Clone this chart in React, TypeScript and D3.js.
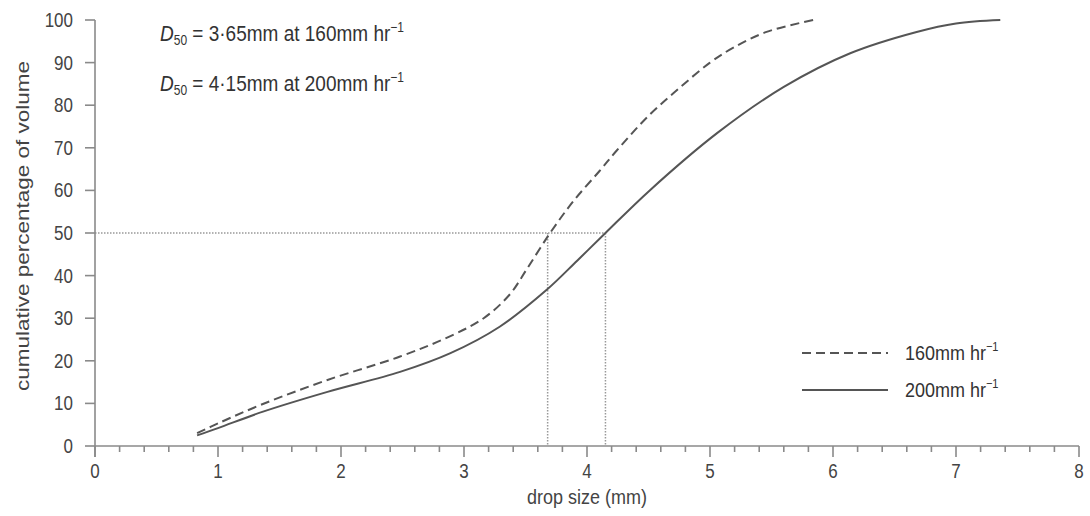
import React from "react";
import * as d3 from "d3";

const xTicks = [0, 1, 2, 3, 4, 5, 6, 7, 8];
const yTicks = [0, 10, 20, 30, 40, 50, 60, 70, 80, 90, 100];

const dropSize160 = [0.83, 1.0, 1.36, 1.89, 2.48, 2.89, 3.16, 3.37, 3.51, 3.7, 3.89, 4.1, 4.24, 4.5, 4.75, 5.0, 5.19, 5.46, 5.84];
const cumVol160 = [3, 5.3, 9.8, 15.5, 21, 25.8, 30, 35.5, 41.5, 50, 57.5, 64.5, 69.3, 77.5, 84, 90, 93.5, 97.2, 100];

const dropSize200 = [0.83, 1.0, 1.36, 1.89, 2.48, 2.89, 3.29, 3.67, 3.92, 4.15, 4.51, 5.06, 5.6, 6.14, 6.68, 7.0, 7.36];
const cumVol200 = [2.5, 4.2, 8, 12.7, 17.4, 21.8, 28, 36.6, 43.5, 50, 60, 73.5, 84.3, 92.2, 97.2, 99.2, 100];

const d50_160 = 3.68;
const d50_200 = 4.15;

const FONT = "'Liberation Sans', Arial, Helvetica, sans-serif";
const TXT = "#444";
const SY = 1.15; // vertical stretch of the lettering

function T({ x, y, anchor = "start", size = 17, fill = TXT, children }: any) {
  return (
    <g transform={`translate(${x},${y}) scale(1,${SY})`}>
      <text x={0} y={0} dy="0.36em" textAnchor={anchor} fontSize={size} fill={fill}>
        {children}
      </text>
    </g>
  );
}

export default function App() {
  const x = d3.scaleLinear().domain([0, 8]).range([95, 1079]);
  const y = d3.scaleLinear().domain([0, 100]).range([446, 20]);

  const line = d3
    .line<[number, number]>()
    .x((d) => x(d[0]))
    .y((d) => y(d[1]))
    .curve(d3.curveCatmullRom.alpha(0.5));

  const s160 = dropSize160.map((v, i) => [v, cumVol160[i]] as [number, number]);
  const s200 = dropSize200.map((v, i) => [v, cumVol200[i]] as [number, number]);

  const minor = d3.range(0, 8.0001, 0.2).filter((v) => Math.abs(v - Math.round(v)) > 1e-6);

  return (
    <svg width={1090} height={516} style={{ position: "absolute", left: 0, top: 0, background: "#fff" }} fontFamily={FONT}>
      {/* dotted reference lines */}
      <g stroke="#999" strokeWidth={1.5} strokeDasharray="1.5 1.5" fill="none">
        <line x1={x(0)} x2={x(d50_200)} y1={y(50)} y2={y(50)} />
        <line x1={x(d50_160)} x2={x(d50_160)} y1={y(50)} y2={y(0)} />
        <line x1={x(d50_200)} x2={x(d50_200)} y1={y(50)} y2={y(0)} />
      </g>

      {/* axes */}
      <g stroke="#8a8a8a" strokeWidth={1.6}>
        <line x1={x(0)} x2={x(0)} y1={y(0) + 11} y2={y(100)} />
        <line x1={x(0)} x2={x(8)} y1={y(0)} y2={y(0)} />
        {yTicks.map((t) => (
          <line key={"yt" + t} x1={x(0) - 10} x2={x(0)} y1={y(t)} y2={y(t)} />
        ))}
        {xTicks.map((t) => (
          <line key={"xt" + t} x1={x(t)} x2={x(t)} y1={y(0)} y2={y(0) + 11} />
        ))}
        {minor.map((t, i) => (
          <line key={"mt" + i} x1={x(t)} x2={x(t)} y1={y(0)} y2={y(0) + 6} />
        ))}
      </g>

      {yTicks.map((t) => (
        <T key={"yl" + t} x={x(0) - 22} y={y(t)} anchor="end">
          {t}
        </T>
      ))}
      {xTicks.map((t) => (
        <T key={"xl" + t} x={x(t)} y={y(0) + 25} anchor="middle">
          {t}
        </T>
      ))}
      <T x={587} y={497} anchor="middle" size={18}>
        drop size (mm)
      </T>
      <text
        transform={`translate(22,${y(50) - 7}) rotate(-90)`}
        dy="0.36em"
        textAnchor="middle"
        fontSize={19}
        fill={TXT}
        textLength={330}
        lengthAdjust="spacingAndGlyphs"
      >
        cumulative percentage of volume
      </text>

      {/* curves */}
      <path d={line(s160) || ""} fill="none" stroke="#555" strokeWidth={2} strokeDasharray="9 5" />
      <path d={line(s200) || ""} fill="none" stroke="#555" strokeWidth={2} />

      {/* annotations */}
      <T x={160} y={33} size={19} fill="#333">
        <tspan fontStyle="italic">D</tspan>
        <tspan fontSize={12} dy={4}>50</tspan>
        <tspan dy={-4}> = 3·65mm at 160mm hr</tspan>
        <tspan fontSize={12} dy={-8}>−1</tspan>
      </T>
      <T x={160} y={83} size={19} fill="#333">
        <tspan fontStyle="italic">D</tspan>
        <tspan fontSize={12} dy={4}>50</tspan>
        <tspan dy={-4}> = 4·15mm at 200mm hr</tspan>
        <tspan fontSize={12} dy={-8}>−1</tspan>
      </T>

      {/* legend */}
      <line x1={802} x2={888} y1={353} y2={353} stroke="#555" strokeWidth={2} strokeDasharray="9 5" />
      <line x1={802} x2={888} y1={390} y2={390} stroke="#555" strokeWidth={2} />
      <T x={905} y={353} size={18} fill="#333">
        160mm hr<tspan fontSize={11} dy={-8}>−1</tspan>
      </T>
      <T x={905} y={390} size={18} fill="#333">
        200mm hr<tspan fontSize={11} dy={-8}>−1</tspan>
      </T>
    </svg>
  );
}
